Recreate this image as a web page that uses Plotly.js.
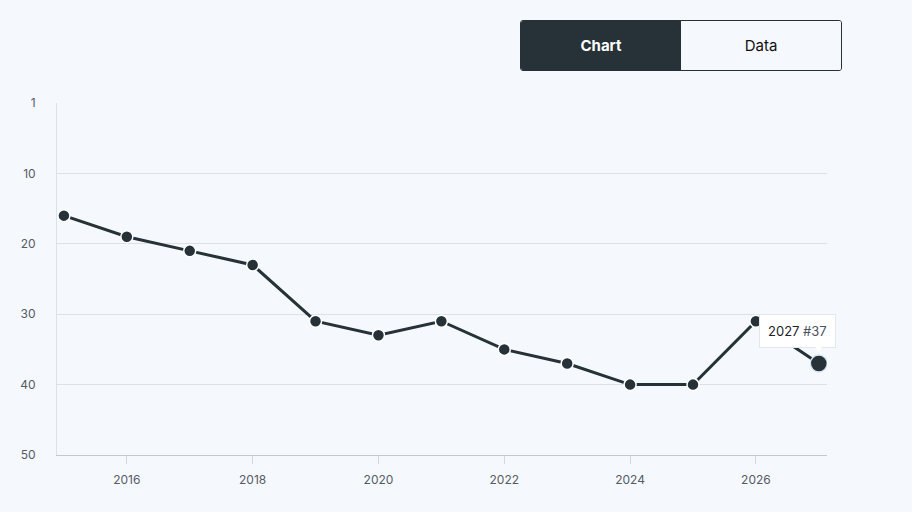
<!DOCTYPE html>
<html><head><meta charset="utf-8">
<script src="https://cdn.plot.ly/plotly-3.0.1.min.js"></script>
<style>
html,body{margin:0;padding:0;background:#f5f9fd;}
#chart{width:912px;height:512px;position:relative;}
.toggle{position:absolute;left:520px;top:20px;width:320px;height:49px;border:1px solid #263238;border-radius:3px;overflow:hidden;display:flex;font-family:Inter,"Liberation Sans",sans-serif;font-size:15px;z-index:5;}
.toggle div{flex:1;display:flex;align-items:center;justify-content:center;}
.toggle .on{background:#263238;color:#fff;font-weight:700;}
.toggle .off{background:#f5f9fd;color:#111;}
</style></head>
<body>
<div id="chart"><div class="toggle"><div class="on">Chart</div><div class="off">Data</div></div></div>
<script>
const years = [2015,2016,2017,2018,2019,2020,2021,2022,2023,2024,2025,2026,2027];
const ranks = [16,19,21,23,31,33,31,35,37,40,40,31,37];
const yTickVals = [0,10,20,30,40,50];
const yTickText = ['1','10','20','30','40','50'];
const xTickVals = [2016,2018,2020,2022,2024,2026];
const hoverYear = years[years.length-1];
const hoverRank = ranks[ranks.length-1];

const dark = '#263238';
const n = years.length;

const traces = [
 {x: years, y: ranks, type:'scatter', mode:'lines', line:{color:dark,width:3}, hoverinfo:'skip'},
 {x: years.slice(0,n-1), y: ranks.slice(0,n-1), type:'scatter', mode:'markers',
  marker:{color:dark,size:12,opacity:1,line:{color:'#ffffff',width:1.5}}, hoverinfo:'skip'},
 {x: years.slice(n-1), y: ranks.slice(n-1), type:'scatter', mode:'markers',
  marker:{color:dark,size:17,opacity:1,line:{color:'#d6e4f5',width:1.5}}, hoverinfo:'skip'}
];

const font = {family:'Inter, "Liberation Sans", sans-serif', size:12, color:'#555b66'};
const layout = {
  width:912, height:512,
  margin:{l:57,r:85,t:103,b:57},
  paper_bgcolor:'#f5f9fd', plot_bgcolor:'#f5f9fd',
  showlegend:false,
  font:font,
  xaxis:{range:[2014.89,2027.13], tickvals:xTickVals, showgrid:false, zeroline:false,
    showline:true, linecolor:'#c4c9d0', linewidth:1, ticks:'outside', ticklen:8, tickcolor:'#d4d8de',
    ticklabelstandoff:6, tickfont:font, fixedrange:true},
  yaxis:{range:[50,0], tickvals:yTickVals, ticktext:yTickText, showgrid:true, gridcolor:'#dde1e7', gridwidth:1,
    zeroline:false, showline:true, linecolor:'#dde1e7', linewidth:1, ticks:'', ticklabelstandoff:18,
    tickfont:font, fixedrange:true},
  annotations:[
    {x:hoverYear, y:hoverRank, xref:'x', yref:'y', text:hoverYear+' <span style="color:#4a5260">#'+hoverRank+'</span>',
     showarrow:false, xanchor:'right', yanchor:'bottom', xshift:17, yshift:15,
     bgcolor:'#ffffff', bordercolor:'#e3e6ea', borderwidth:1, borderpad:8,
     font:{family:'Inter, "Liberation Sans", sans-serif', size:13, color:'#1c2228'}},
    {x:hoverYear, y:hoverRank, xref:'x', yref:'y', text:'▼', showarrow:false,
     xanchor:'center', yanchor:'bottom', xshift:0, yshift:6,
     font:{size:11,color:'#ffffff'}}
  ]
};
Plotly.newPlot('chart', traces, layout, {displayModeBar:false, staticPlot:true});
</script>
</body></html>
